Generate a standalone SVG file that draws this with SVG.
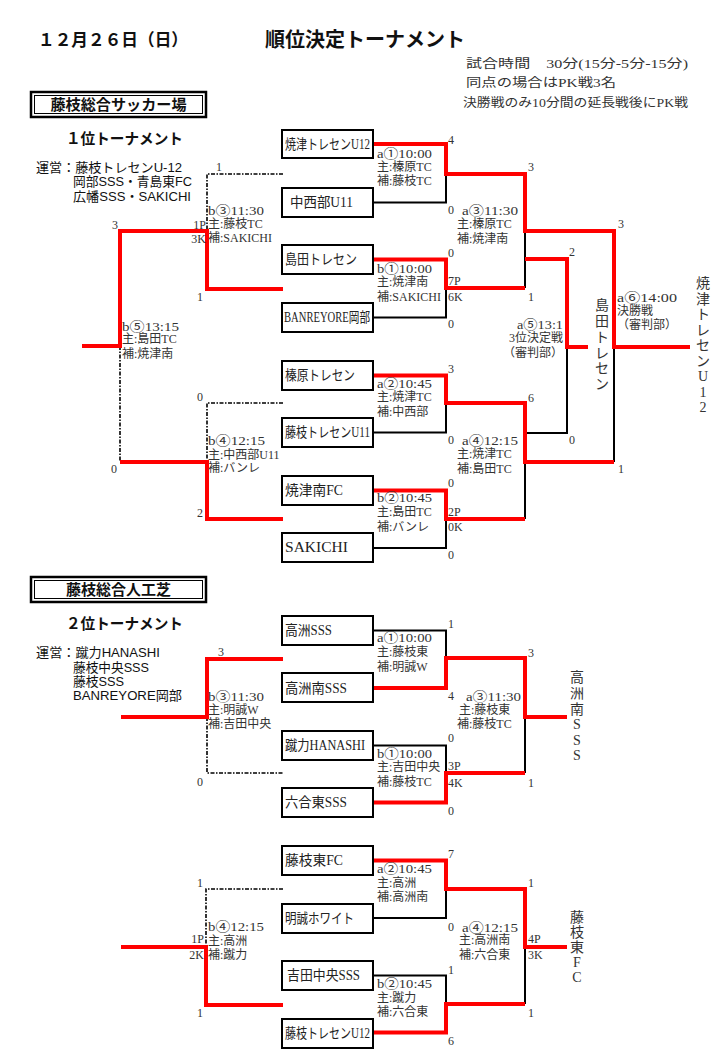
<svg xmlns="http://www.w3.org/2000/svg" width="728" height="1064" viewBox="0 0 728 1064">
<style>
text{dominant-baseline:central}
.s{font-family:"Liberation Serif","Noto Sans CJK JP",serif;fill:#333;font-size:12px}
.tm{font-size:13px}
.g{font-family:"Liberation Sans","Noto Sans CJK JP",sans-serif;fill:#111}
.n{font-family:"Liberation Serif","Noto Sans CJK JP",serif;fill:#222;font-size:14px}
.v{font-family:"Liberation Serif","Noto Sans CJK JP",serif;fill:#333;font-size:14px;text-anchor:middle}
.box{fill:#fff;stroke:#000;stroke-width:2}
.red{fill:none;stroke:#f00;stroke-width:4;stroke-linejoin:miter;stroke-linecap:butt}
.blk{fill:none;stroke:#000;stroke-width:2}
.dsh{fill:none;stroke:#000;stroke-width:1.6;stroke-dasharray:4 1.5 1.5 1.5}
.hb1{fill:#fff;stroke:#000;stroke-width:2.5}
.hb2{fill:none;stroke:#000;stroke-width:1}
</style>

<g id="header">
<text class="g" x="38" y="40" font-size="17" font-weight="bold" textLength="150" lengthAdjust="spacingAndGlyphs">１２月２６日（日）</text>
<text class="g" x="265" y="40" font-size="20" font-weight="bold" textLength="200" lengthAdjust="spacingAndGlyphs">順位決定トーナメント</text>
<text class="s" x="466" y="64" font-size="13" textLength="222" lengthAdjust="spacingAndGlyphs">試合時間　30分(15分-5分-15分)</text>
<text class="s" x="466" y="83" font-size="13" textLength="150" lengthAdjust="spacingAndGlyphs">同点の場合はPK戦3名</text>
<text class="s" x="463" y="103" font-size="13" textLength="225" lengthAdjust="spacingAndGlyphs">決勝戦のみ10分間の延長戦後にPK戦</text>
</g>

<g id="venue1">
<rect class="hb1" x="31" y="92" width="175" height="25"/>
<rect class="hb2" x="34.5" y="95.5" width="168" height="18"/>
<text class="g" x="118.5" y="104.5" font-size="15" font-weight="bold" text-anchor="middle" textLength="136" lengthAdjust="spacingAndGlyphs">藤枝総合サッカー場</text>
</g>
<g id="title1">
<text class="g" x="66" y="138" font-size="15" font-weight="bold" textLength="117" lengthAdjust="spacingAndGlyphs">１位トーナメント</text>
<text class="g" x="36" y="167" font-size="13" fill="#223" textLength="146" lengthAdjust="spacingAndGlyphs">運営：藤枝トレセンU-12</text>
<text class="g" x="73" y="181" font-size="13" fill="#223" textLength="119" lengthAdjust="spacingAndGlyphs">岡部SSS・青島東FC</text>
<text class="g" x="73" y="196" font-size="13" fill="#223" textLength="118" lengthAdjust="spacingAndGlyphs">広幡SSS・SAKICHI</text>
</g>

<g id="venue2">
<rect class="hb1" x="31" y="577" width="175" height="25"/>
<rect class="hb2" x="34.5" y="580.5" width="168" height="18"/>
<text class="g" x="118.5" y="589.5" font-size="15" font-weight="bold" text-anchor="middle" textLength="105" lengthAdjust="spacingAndGlyphs">藤枝総合人工芝</text>
</g>
<g id="title2">
<text class="g" x="66" y="623" font-size="15" font-weight="bold" textLength="117" lengthAdjust="spacingAndGlyphs">２位トーナメント</text>
<text class="g" x="36" y="652" font-size="13" fill="#223" textLength="124" lengthAdjust="spacingAndGlyphs">運営：蹴力HANASHI</text>
<text class="g" x="73" y="667" font-size="13" fill="#223" textLength="76" lengthAdjust="spacingAndGlyphs">藤枝中央SSS</text>
<text class="g" x="73" y="681" font-size="13" fill="#223" textLength="51" lengthAdjust="spacingAndGlyphs">藤枝SSS</text>
<text class="g" x="73" y="695" font-size="13" fill="#223" textLength="109" lengthAdjust="spacingAndGlyphs">BANREYORE岡部</text>
</g>

<g id="connectors">
<path class="blk" d="M373,202.5H446V173"/>
<path class="blk" d="M373,317.5H446V288"/>
<path class="blk" d="M525,231V288"/>
<path class="blk" d="M525,433H567V346"/>
<path class="blk" d="M614,347V462"/>
<path class="blk" d="M373,432.5H446V403"/>
<path class="blk" d="M525,462V519"/>
<path class="blk" d="M373,548H446V519"/>
<path class="dsh" d="M283,174H207V231"/>
<path class="dsh" d="M120,346V462"/>
<path class="dsh" d="M283,403H207V462"/>
<path class="red" d="M373,144H446V174H525V231H614V347H690"/>
<path class="red" d="M373,259.5H446V288H525"/>
<path class="red" d="M525,259H567V347H588"/>
<path class="red" d="M373,375.5H446V403H525V462H614"/>
<path class="red" d="M373,490.5H446V519H525"/>
<path class="red" d="M283,289H207V231H120V346H82"/>
<path class="red" d="M120,462H207V519H283"/>
<path class="blk" d="M373,630.5H446V658"/>
<path class="blk" d="M525,717V773"/>
<path class="blk" d="M373,745.5H446V773"/>
<path class="blk" d="M373,918H446V889"/>
<path class="blk" d="M525,947V1004"/>
<path class="blk" d="M373,975.5H446V1004"/>
<path class="dsh" d="M207,717V773H283"/>
<path class="dsh" d="M283,889H206V947"/>
<path class="red" d="M373,688H446V658H525V717H567"/>
<path class="red" d="M373,802.5H446V773H525"/>
<path class="red" d="M373,860.5H446V889H525V947H567"/>
<path class="red" d="M373,1032.5H446V1004H525"/>
<path class="red" d="M283,659H207V717H121"/>
<path class="red" d="M121,947H206V1005H283"/>
</g>

<g id="team-yaizu-u12"><rect class="box" x="282" y="130" width="91" height="28"/><text class="n" x="285" y="144" font-size="11" textLength="85" lengthAdjust="spacingAndGlyphs">焼津トレセンU12</text></g>
<g id="team-nakanishibe"><rect class="box" x="282" y="188" width="91" height="29"/><text class="n" x="290" y="202.5" textLength="63" lengthAdjust="spacingAndGlyphs">中西部U11</text></g>
<g id="team-shimada"><rect class="box" x="282" y="245" width="91" height="29"/><text class="n" x="285" y="259.5" textLength="72" lengthAdjust="spacingAndGlyphs">島田トレセン</text></g>
<g id="team-banreyore"><rect class="box" x="282" y="303" width="91" height="29"/><text class="n" x="284" y="317.5" font-size="11" textLength="86" lengthAdjust="spacingAndGlyphs">BANREYORE岡部</text></g>
<g id="team-haibara"><rect class="box" x="282" y="361" width="91" height="29"/><text class="n" x="285" y="375.5" textLength="70" lengthAdjust="spacingAndGlyphs">榛原トレセン</text></g>
<g id="team-fujieda-u11"><rect class="box" x="282" y="418" width="91" height="29"/><text class="n" x="285" y="432.5" font-size="11" textLength="85" lengthAdjust="spacingAndGlyphs">藤枝トレセンU11</text></g>
<g id="team-yaizuminami"><rect class="box" x="282" y="476" width="91" height="29"/><text class="n" x="285" y="490.5" textLength="58" lengthAdjust="spacingAndGlyphs">焼津南FC</text></g>
<g id="team-sakichi"><rect class="box" x="282" y="533" width="91" height="29"/><text class="n" x="285" y="547.5" textLength="63" lengthAdjust="spacingAndGlyphs">SAKICHI</text></g>

<g id="team-takasu"><rect class="box" x="282" y="616" width="91" height="29"/><text class="n" x="285" y="630.5" textLength="47" lengthAdjust="spacingAndGlyphs">高洲SSS</text></g>
<g id="team-takasuminami"><rect class="box" x="282" y="673" width="91" height="29"/><text class="n" x="285" y="688" textLength="62" lengthAdjust="spacingAndGlyphs">高洲南SSS</text></g>
<g id="team-shuriki"><rect class="box" x="282" y="731" width="91" height="29"/><text class="n" x="285" y="745.5" font-size="13" textLength="80" lengthAdjust="spacingAndGlyphs">蹴力HANASHI</text></g>
<g id="team-rokugou"><rect class="box" x="282" y="788" width="91" height="29"/><text class="n" x="285" y="802.5" textLength="62" lengthAdjust="spacingAndGlyphs">六合東SSS</text></g>
<g id="team-fujiedahigashi"><rect class="box" x="282" y="846" width="91" height="29"/><text class="n" x="285" y="860.5" textLength="58" lengthAdjust="spacingAndGlyphs">藤枝東FC</text></g>
<g id="team-meisei"><rect class="box" x="282" y="904" width="91" height="29"/><text class="n" x="285" y="918.5" textLength="69" lengthAdjust="spacingAndGlyphs">明誠ホワイト</text></g>
<g id="team-yoshida"><rect class="box" x="282" y="961" width="91" height="29"/><text class="n" x="287" y="975.5" textLength="73" lengthAdjust="spacingAndGlyphs">吉田中央SSS</text></g>
<g id="team-fujieda-u12"><rect class="box" x="282" y="1019" width="91" height="29"/><text class="n" x="285" y="1033.5" font-size="11" textLength="85" lengthAdjust="spacingAndGlyphs">藤枝トレセンU12</text></g>

<g id="scores1" class="s">
<text x="448" y="140">4</text>
<text x="448" y="210">0</text>
<text x="528" y="167">3</text>
<text x="448" y="253">0</text>
<text x="448" y="281">7P</text>
<text x="448" y="297">6K</text>
<text x="448" y="324">0</text>
<text x="528" y="297">1</text>
<text x="569" y="252">2</text>
<text x="618" y="224">3</text>
<text x="618" y="469">1</text>
<text x="569" y="440">0</text>
<text x="528" y="398">6</text>
<text x="448" y="369">3</text>
<text x="448" y="440">0</text>
<text x="448" y="483">0</text>
<text x="448" y="512">2P</text>
<text x="448" y="527">0K</text>
<text x="448" y="555">0</text>
<text x="216" y="167">1</text>
<text x="112" y="225">3</text>
<text x="206" y="225" text-anchor="end">1P</text>
<text x="206" y="239" text-anchor="end">3K</text>
<text x="197" y="297">1</text>
<text x="197" y="397">0</text>
<text x="111" y="469">0</text>
<text x="197" y="513">2</text>
</g>

<g id="scores2" class="s">
<text x="448" y="624">1</text>
<text x="528" y="653">3</text>
<text x="448" y="696">4</text>
<text x="448" y="738">0</text>
<text x="448" y="766">3P</text>
<text x="448" y="783">4K</text>
<text x="528" y="783">1</text>
<text x="448" y="811">0</text>
<text x="218" y="652">3</text>
<text x="197" y="782">0</text>
<text x="448" y="854">7</text>
<text x="528" y="883">1</text>
<text x="448" y="927">0</text>
<text x="528" y="939">4P</text>
<text x="528" y="955">3K</text>
<text x="448" y="970">1</text>
<text x="528" y="1013">1</text>
<text x="448" y="1041">6</text>
<text x="197" y="883">1</text>
<text x="204" y="939" text-anchor="end">1P</text>
<text x="204" y="955" text-anchor="end">2K</text>
<text x="197" y="1013">1</text>
</g>

<g id="match-labels1" class="s">
<text class="tm" x="377" y="153" textLength="55" lengthAdjust="spacingAndGlyphs">a①10:00</text>
<text x="377" y="167">主:榛原TC</text>
<text x="377" y="181">補:藤枝TC</text>
<text class="tm" x="377" y="268" textLength="55" lengthAdjust="spacingAndGlyphs">b①10:00</text>
<text x="377" y="282">主:焼津南</text>
<text x="377" y="297">補:SAKICHI</text>
<text class="tm" x="462" y="210" textLength="56" lengthAdjust="spacingAndGlyphs">a③11:30</text>
<text x="457" y="224">主:榛原TC</text>
<text x="457" y="239">補:焼津南</text>
<text class="tm" x="563" y="324" text-anchor="end" textLength="46" lengthAdjust="spacingAndGlyphs">a⑤13:1</text>
<text x="563" y="338" text-anchor="end">3位決定戦</text>
<text x="563" y="353" text-anchor="end">（審判部）</text>
<text class="tm" x="617" y="297" textLength="60" lengthAdjust="spacingAndGlyphs">a⑥14:00</text>
<text x="617" y="311">決勝戦</text>
<text x="617" y="325">（審判部）</text>
<text class="tm" x="208" y="210" textLength="56" lengthAdjust="spacingAndGlyphs">b③11:30</text>
<text x="208" y="224">主:藤枝TC</text>
<text x="208" y="238">補:SAKICHI</text>
<text class="tm" x="122" y="326" textLength="57" lengthAdjust="spacingAndGlyphs">b⑤13:15</text>
<text x="122" y="339">主:島田TC</text>
<text x="122" y="354">補:焼津南</text>
<text class="tm" x="208" y="440" textLength="57" lengthAdjust="spacingAndGlyphs">b④12:15</text>
<text x="208" y="455">主:中西部U11</text>
<text x="208" y="468">補:バンレ</text>
<text class="tm" x="377" y="383" textLength="55" lengthAdjust="spacingAndGlyphs">a②10:45</text>
<text x="377" y="397">主:焼津TC</text>
<text x="377" y="412">補:中西部</text>
<text class="tm" x="462" y="440" textLength="56" lengthAdjust="spacingAndGlyphs">a④12:15</text>
<text x="457" y="454">主:焼津TC</text>
<text x="457" y="469">補:島田TC</text>
<text class="tm" x="377" y="497" textLength="55" lengthAdjust="spacingAndGlyphs">b②10:45</text>
<text x="377" y="512">主:島田TC</text>
<text x="377" y="527">補:バンレ</text>
</g>

<g id="match-labels2" class="s">
<text class="tm" x="377" y="637" textLength="55" lengthAdjust="spacingAndGlyphs">a①10:00</text>
<text x="377" y="652">主:藤枝東</text>
<text x="377" y="667">補:明誠W</text>
<text class="tm" x="466" y="696" textLength="55" lengthAdjust="spacingAndGlyphs">a③11:30</text>
<text x="459" y="710">主:藤枝東</text>
<text x="457" y="724">補:藤枝TC</text>
<text class="tm" x="377" y="753" textLength="55" lengthAdjust="spacingAndGlyphs">b①10:00</text>
<text x="377" y="767">主:吉田中央</text>
<text x="377" y="782">補:藤枝TC</text>
<text class="tm" x="208" y="696" textLength="56" lengthAdjust="spacingAndGlyphs">b③11:30</text>
<text x="208" y="710">主:明誠W</text>
<text x="208" y="724">補:吉田中央</text>
<text class="tm" x="377" y="868" textLength="55" lengthAdjust="spacingAndGlyphs">a②10:45</text>
<text x="377" y="883">主:高洲</text>
<text x="377" y="897">補:高洲南</text>
<text class="tm" x="462" y="927" textLength="56" lengthAdjust="spacingAndGlyphs">a④12:15</text>
<text x="459" y="940">主:高洲南</text>
<text x="459" y="955">補:六合東</text>
<text class="tm" x="377" y="983" textLength="55" lengthAdjust="spacingAndGlyphs">b②10:45</text>
<text x="377" y="998">主:蹴力</text>
<text x="377" y="1012">補:六合東</text>
<text class="tm" x="208" y="926" textLength="56" lengthAdjust="spacingAndGlyphs">b④12:15</text>
<text x="208" y="941">主:高洲</text>
<text x="208" y="955">補:蹴力</text>
</g>

<g id="winners">
<text class="v"><tspan x="602" y="305">島</tspan><tspan x="602" y="321">田</tspan><tspan x="602" y="337">ト</tspan><tspan x="602" y="353">レ</tspan><tspan x="602" y="368">セ</tspan><tspan x="602" y="384">ン</tspan></text>
<text class="v"><tspan x="703" y="283">焼</tspan><tspan x="703" y="298.5">津</tspan><tspan x="703" y="314">ト</tspan><tspan x="703" y="329.5">レ</tspan><tspan x="703" y="345">セ</tspan><tspan x="703" y="360.5">ン</tspan><tspan x="703" y="376">U</tspan><tspan x="703" y="391.5">1</tspan><tspan x="703" y="407">2</tspan></text>
<text class="v"><tspan x="577" y="677">高</tspan><tspan x="577" y="693">洲</tspan><tspan x="577" y="709">南</tspan><tspan x="577" y="724">S</tspan><tspan x="577" y="740">S</tspan><tspan x="577" y="755">S</tspan></text>
<text class="v"><tspan x="577" y="917">藤</tspan><tspan x="577" y="932">枝</tspan><tspan x="577" y="947">東</tspan><tspan x="577" y="962">F</tspan><tspan x="577" y="977">C</tspan></text>
</g>
</svg>
